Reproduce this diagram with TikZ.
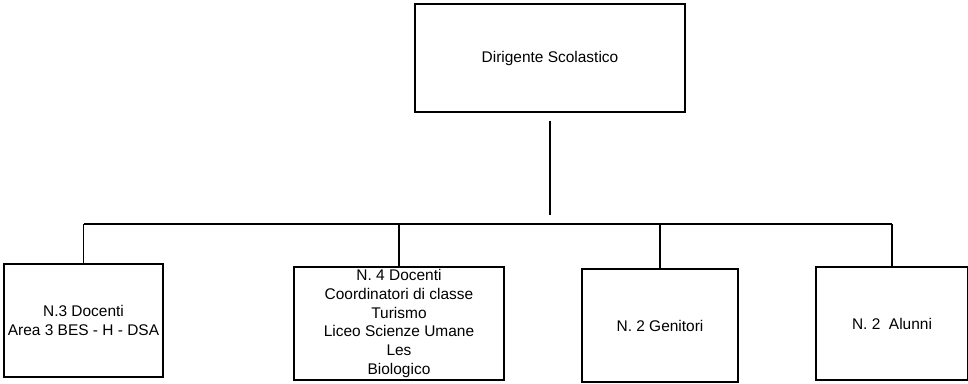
\documentclass[tikz,border=0pt]{standalone}
\usepackage{fontspec}
\setmainfont{Liberation Sans}
\usetikzlibrary{calc}
\tikzset{
  box/.style={draw, black, line width=0.6pt, rectangle, align=center, inner sep=1pt,
    font=\fontsize{8.8}{10.8}\selectfont},
  link/.style={black, line width=0.6pt}
}

\begin{document}
\begin{tikzpicture} [x=0.02cm, y=-0.02cm]
\useasboundingbox (0,0) rectangle (968,383);
\node[box, minimum width=270*0.02cm, minimum height=108*0.02cm] (dir) at (550,58) {Dirigente Scolastico};
\node[box, minimum width=159*0.02cm, minimum height=113*0.02cm] (doc3) at (83.5,320.5) {N.3 Docenti\\Area 3 BES - H - DSA};
\node[box, minimum width=210*0.02cm, minimum height=113*0.02cm] (doc4) at (399,323.5) {N. 4 Docenti\\Coordinatori di classe\\Turismo\\Liceo Scienze Umane\\Les\\Biologico};
\node[box, minimum width=156*0.02cm, minimum height=113*0.02cm] (gen) at (660,325.5) {N. 2 Genitori};
\node[box, minimum width=152*0.02cm, minimum height=113*0.02cm] (alu) at (892,323.5) {N. 2\ \ Alunni};
% bus
\coordinate (busL) at (83.5,224);
\coordinate (busR) at (892,224);
\draw[link] (busL) -- (busR);
\draw[link, shorten <=0.16cm, shorten >=0.18cm] (dir.south) -- (dir.south |- busL);
\foreach \n in {doc3,doc4,gen,alu} {
 \draw[link] (\n.north |- busL) -- (\n.north);
}
\end{tikzpicture}
\end{document}
